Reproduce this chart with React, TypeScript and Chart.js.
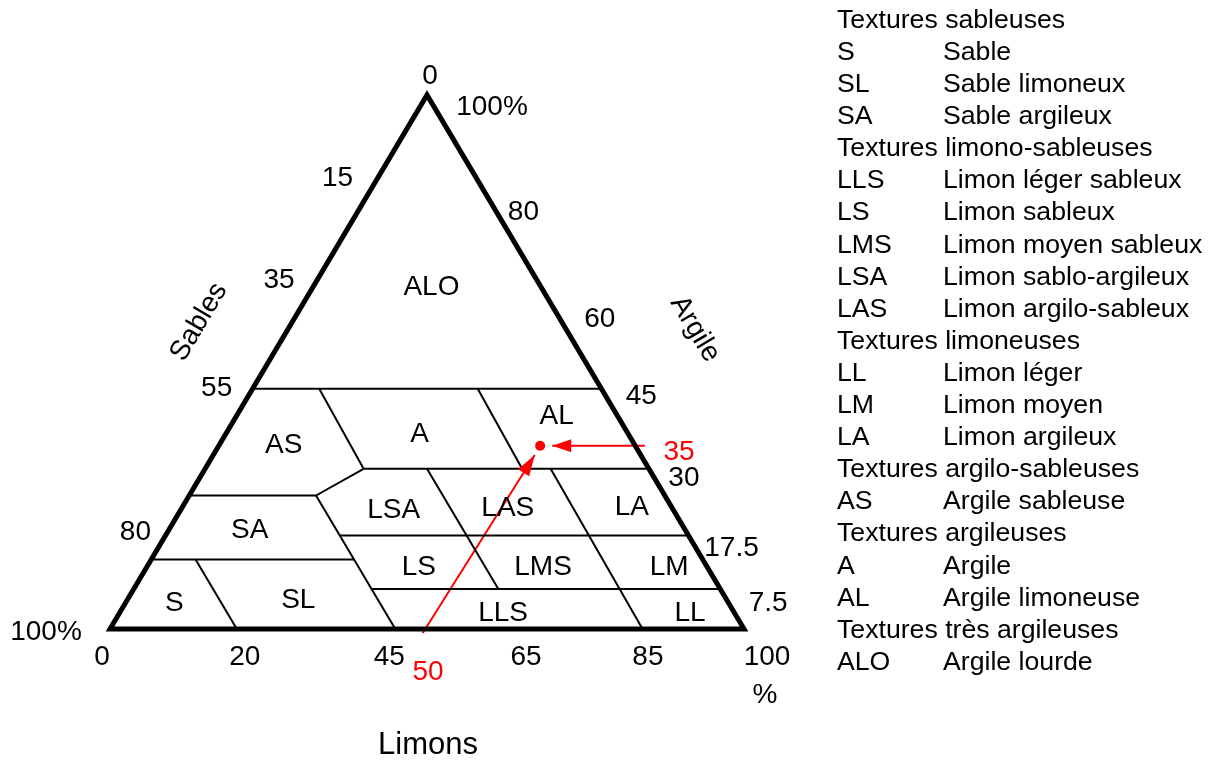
import React, { useEffect, useRef } from "react";
import { Chart, registerables } from "chart.js";

Chart.register(...registerables);

type Pt = [number, number]; // [limons %, argile %]

// ---------- DATA (limons %, argile %) ----------
const triangleOutline: Pt[] = [[50, 0], [100, 0], [0, 100], [0, 0], [50, 0]];

const lineArgile45: Pt[] = [[0, 45], [55, 45]];
const lineAS_A: Pt[] = [[10.5, 45], [25, 30]];
const lineA_AL: Pt[] = [[35.5, 45], [50, 30]];
const lineArgile30: Pt[] = [[25, 30], [70, 30]];
const lineAS_LSA: Pt[] = [[25, 30], [20, 25]];
const lineArgile25: Pt[] = [[0, 25], [20, 25]];
const lineSable55: Pt[] = [[20, 25], [45, 0]];
const lineArgile175: Pt[] = [[27.5, 17.5], [82.5, 17.5]];
const lineArgile13: Pt[] = [[0, 13], [32, 13]];
const lineS_SL: Pt[] = [[7, 13], [20, 0]];
const lineArgile75: Pt[] = [[37.5, 7.5], [92.5, 7.5]];
const lineSable35: Pt[] = [[35, 30], [57.5, 7.5]];
const lineSable15: Pt[] = [[54.5, 30], [84, 0]];

const boundaries: Pt[][] = [
  lineArgile45, lineAS_A, lineA_AL, lineArgile30, lineAS_LSA, lineArgile25,
  lineSable55, lineArgile175, lineArgile13, lineS_SL, lineArgile75, lineSable35, lineSable15,
];

const regionCodes = ["ALO", "AS", "A", "AL", "LSA", "LAS", "LA", "SA", "LS", "LMS", "LM", "S", "SL", "LLS", "LL"];
const regionLimons = [18.7, 10.2, 30.6, 50.5, 33.6, 51.4, 70.9, 12.8, 42.9, 62.5, 82.4, 7.7, 27.0, 60.5, 90.0];
const regionArgile = [64.0, 34.4, 36.5, 39.9, 22.3, 22.7, 22.8, 18.5, 11.6, 11.6, 11.6, 4.9, 5.4, 3.0, 3.0];

const sandTickLabels = ["0", "15", "35", "55", "80", "100%"];
const sandTickArgile = [100, 85, 65, 45, 20, 0];
const clayTickLabels = ["100%", "80", "60", "45", "30", "17.5", "7.5"];
const clayTickValues = [100, 80, 60, 45, 30, 17.5, 7.5];
const siltTickLabels = ["0", "20", "45", "65", "85", "100"];
const siltTickValues = [0, 20, 45, 65, 85, 100];

const samplePoint: Pt = [50.7, 34.3];
const sampleLimonsLabel = "50";
const sampleArgileLabel = "35";
const sampleLimonsValue = 50;
const sampleArgileValue = 35;
const arrowLimons: Pt[] = [[49.7, -0.75], [50.7, 32.6]];
const arrowArgile: Pt[] = [[67.2, 34.3], [52.6, 34.3]];

const legendTitles = [
  "Textures sableuses",
  "Textures limono-sableuses",
  "Textures limoneuses",
  "Textures argilo-sableuses",
  "Textures argileuses",
  "Textures très argileuses",
];
const legendCodes = [
  ["S", "SL", "SA"],
  ["LLS", "LS", "LMS", "LSA", "LAS"],
  ["LL", "LM", "LA"],
  ["AS"],
  ["A", "AL"],
  ["ALO"],
];
const legendNames = [
  ["Sable", "Sable limoneux", "Sable argileux"],
  ["Limon léger sableux", "Limon sableux", "Limon moyen sableux", "Limon sablo-argileux", "Limon argilo-sableux"],
  ["Limon léger", "Limon moyen", "Limon argileux"],
  ["Argile sableuse"],
  ["Argile", "Argile limoneuse"],
  ["Argile lourde"],
];

// ---------- LAYOUT (pixels) ----------
const W = 1216;
const H = 763;
const AREA = { left: 110, right: 744, top: 95, bottom: 629 };
const FONT = '"Liberation Sans", Arial, Helvetica, sans-serif';
const sandTickNudge: Pt[] = [[3, -19], [-42, 3], [-37, -2], [-36, 0], [-38, 10], [-64, 3]];
const clayTickNudge: Pt[] = [[65, 12], [33, 10], [46, 11], [40, 8], [35, 9], [43, 13], [48, 14]];
const siltTickNudge: Pt[] = [[-8, 28.5], [8, 28.5], [-6, 28.5], [4, 28.5], [-1, 28.5], [23, 28.5]];
const LEGEND = { codeX: 837, nameX: 943, firstY: 20.5, step: 32.1, size: 26.67 };

const toXY = (p: Pt) => ({ x: p[0] + p[1] / 2, y: p[1] });

const overlay = {
  id: "overlay",
  afterDatasetsDraw(chart: any) {
    const { ctx } = chart;
    const xs = chart.scales.x;
    const ys = chart.scales.y;
    const px = (l: number, a: number): Pt => [xs.getPixelForValue(l + a / 2), ys.getPixelForValue(a)];

    const text = (s: string, x: number, y: number, size: number, color = "#000", align: CanvasTextAlign = "center") => {
      ctx.font = `${size}px ${FONT}`;
      ctx.fillStyle = color;
      ctx.textAlign = align;
      ctx.textBaseline = "middle";
      ctx.fillText(s, x, y);
    };

    ctx.save();

    // arrow heads
    const head = (path: Pt[], len: number, half: number) => {
      const [sx, sy] = px(path[0][0], path[0][1]);
      const [tx, ty] = px(path[1][0], path[1][1]);
      const d = Math.hypot(tx - sx, ty - sy);
      const ux = (tx - sx) / d;
      const uy = (ty - sy) / d;
      const bx = tx - ux * len;
      const by = ty - uy * len;
      ctx.beginPath();
      ctx.moveTo(tx, ty);
      ctx.lineTo(bx - uy * half, by + ux * half);
      ctx.lineTo(bx + uy * half, by - ux * half);
      ctx.closePath();
      ctx.fillStyle = "#ff0000";
      ctx.fill();
    };
    head(arrowLimons, 21, 6.5);
    head(arrowArgile, 19, 6.5);

    // region labels
    regionCodes.forEach((c, i) => {
      const [x, y] = px(regionLimons[i], regionArgile[i]);
      text(c, x, y, 28);
    });

    // sand ticks (left edge)
    sandTickLabels.forEach((s, i) => {
      const [x, y] = px(0, sandTickArgile[i]);
      text(s, x + sandTickNudge[i][0], y + sandTickNudge[i][1], 28);
    });
    // clay ticks (right edge)
    clayTickLabels.forEach((s, i) => {
      const v = clayTickValues[i];
      const [x, y] = px(100 - v, v);
      text(s, x + clayTickNudge[i][0], y + clayTickNudge[i][1], 28);
    });
    // silt ticks (bottom)
    siltTickLabels.forEach((s, i) => {
      const [x, y] = px(siltTickValues[i], 0);
      text(s, x + siltTickNudge[i][0], y + siltTickNudge[i][1], 28);
    });
    // "%" under 100, clipped like the source image
    {
      const [x, y] = px(100, 0);
      ctx.save();
      ctx.beginPath();
      ctx.rect(0, 0, W, y + 74);
      ctx.clip();
      text("%", x + 21, y + 66, 28);
      ctx.restore();
    }

    // sample labels (red)
    {
      const [x, y] = px(sampleLimonsValue, 0);
      text(sampleLimonsLabel, x + 1, y + 43, 28, "#ff0000");
      const [x2, y2] = px(100 - sampleArgileValue, sampleArgileValue);
      text(sampleArgileLabel, x2 + 46, y2 + 10, 28, "#ff0000");
    }

    // axis titles
    {
      const [ax, ay] = px(0, 0);
      const [bx, by] = px(0, 100);
      const [cx, cy] = px(100, 0);
      const leftAngle = Math.atan2(by - ay, bx - ax);
      const rightAngle = Math.atan2(cy - by, cx - bx);
      const [lx, ly] = px(0, 50);
      ctx.save();
      ctx.translate(lx - 69.5, ly - 40);
      ctx.rotate(leftAngle);
      text("Sables", 0, 0, 28);
      ctx.restore();
      const [rx, ry] = px(50, 50);
      ctx.save();
      ctx.translate(rx + 109.5, ry - 33);
      ctx.rotate(rightAngle);
      text("Argile", 0, 0, 28);
      ctx.restore();
      const [mx, my] = px(50, 0);
      text("Limons", mx + 1, my + 116, 31);
    }

    // legend
    let row = 0;
    legendTitles.forEach((t, g) => {
      text(t, LEGEND.codeX, LEGEND.firstY + LEGEND.step * row, LEGEND.size, "#000", "left");
      row++;
      legendCodes[g].forEach((c, k) => {
        const y = LEGEND.firstY + LEGEND.step * row;
        text(c, LEGEND.codeX, y, LEGEND.size, "#000", "left");
        text(legendNames[g][k], LEGEND.nameX, y, LEGEND.size, "#000", "left");
        row++;
      });
    });

    ctx.restore();
  },
};

export default function App() {
  const ref = useRef<HTMLCanvasElement>(null);
  useEffect(() => {
    const lineDs = (pts: Pt[], color: string, width: number) => ({
      data: pts.map(toXY),
      showLine: true,
      borderColor: color,
      borderWidth: width,
      pointRadius: 0,
      pointHoverRadius: 0,
      tension: 0,
      fill: false,
      clip: false as any,
      borderJoinStyle: "miter" as const,
      borderCapStyle: "butt" as const,
    });
    const datasets: any[] = [
      ...boundaries.map((b) => lineDs(b, "#000", 2)),
      lineDs(triangleOutline, "#000", 5),
      lineDs(arrowLimons, "#ff0000", 2),
      lineDs(arrowArgile, "#ff0000", 2),
      {
        data: [toXY(samplePoint)],
        showLine: false,
        pointRadius: 5,
        pointBackgroundColor: "#ff0000",
        pointBorderWidth: 0,
        clip: false,
      },
    ];
    const chart = new Chart(ref.current!, {
      type: "scatter",
      data: { datasets },
      options: {
        responsive: false,
        animation: false,
        devicePixelRatio: 1,
        layout: {
          padding: { left: AREA.left, right: W - AREA.right, top: AREA.top, bottom: H - AREA.bottom },
        },
        scales: {
          x: { type: "linear", min: 0, max: 100, display: false },
          y: { type: "linear", min: 0, max: 100, display: false },
        },
        plugins: { legend: { display: false }, tooltip: { enabled: false } },
        events: [],
      },
      plugins: [overlay],
    });
    return () => chart.destroy();
  }, []);
  return (
    <div style={{ position: "absolute", left: 0, top: 0, width: W, height: H, background: "#fff" }}>
      <canvas ref={ref} width={W} height={H} style={{ display: "block", width: W, height: H }} />
    </div>
  );
}
